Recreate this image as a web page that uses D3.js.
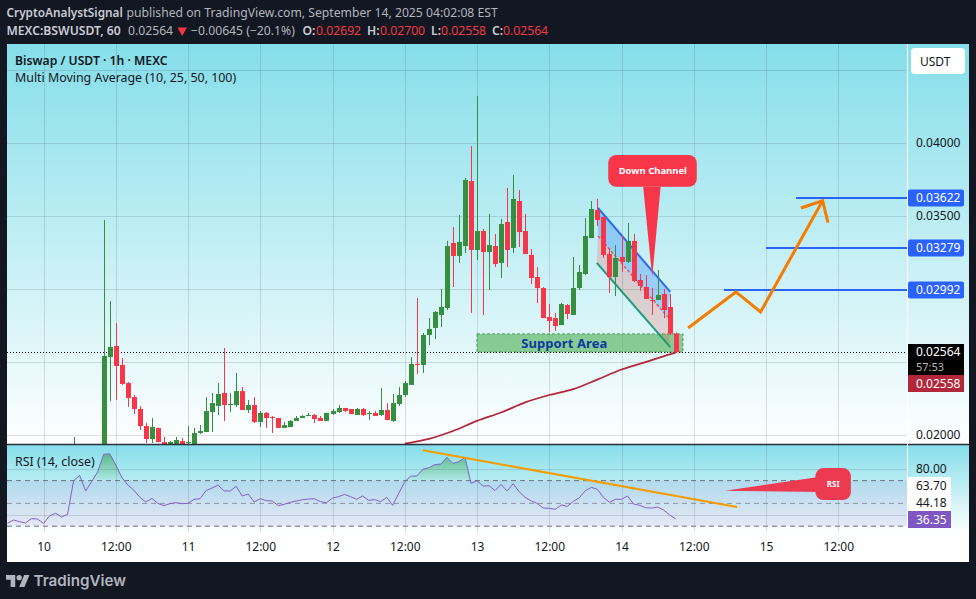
<!DOCTYPE html>
<html><head><meta charset="utf-8">
<script src="https://cdn.jsdelivr.net/npm/d3@7/dist/d3.min.js"></script>
<style>html,body{margin:0;padding:0;background:#131722}svg{display:block}text{font-family:"Noto Sans",sans-serif}</style>
</head><body><svg id="c" width="976" height="599"></svg>
<script>
// ---- data ----
const candleHours=[5,...d3.range(10,106)];
const opens=[0.01850,0.01756,0.02532,0.02607,0.02477,0.02353,0.02257,0.02175,0.02058,0.01969,0.02045,0.01949,0.01925,0.01925,0.01955,0.01942,0.01925,0.02010,0.02017,0.02154,0.02196,0.02285,0.02202,0.02202,0.02298,0.02168,0.02202,0.02086,0.02148,0.02120,0.02113,0.02045,0.02051,0.02093,0.02113,0.02127,0.02134,0.02113,0.02093,0.02141,0.02154,0.02182,0.02175,0.02134,0.02175,0.02141,0.02148,0.02134,0.02168,0.02093,0.02209,0.02271,0.02340,0.02484,0.02477,0.02683,0.02731,0.02820,0.02868,0.03314,0.03225,0.03293,0.03739,0.03266,0.03396,0.03252,0.03293,0.03177,0.03458,0.03280,0.03602,0.03396,0.03232,0.03081,0.03005,0.02806,0.02799,0.02751,0.02889,0.02820,0.03005,0.03101,0.03348,0.03540,0.03492,0.03238,0.03081,0.03218,0.03184,0.03328,0.03060,0.03012,0.02923,0.02923,0.02964,0.02875,0.02692];
const highs=[0.01983,0.03472,0.02916,0.02765,0.02525,0.02360,0.02271,0.02196,0.02079,0.02113,0.02048,0.01983,0.01955,0.01983,0.01976,0.02058,0.02045,0.02065,0.02257,0.02285,0.02353,0.02594,0.02285,0.02422,0.02326,0.02237,0.02257,0.02161,0.02154,0.02127,0.02113,0.02086,0.02099,0.02127,0.02134,0.02148,0.02141,0.02127,0.02148,0.02175,0.02202,0.02182,0.02175,0.02182,0.02182,0.02161,0.02161,0.02319,0.02216,0.02278,0.02326,0.02367,0.02532,0.02937,0.02696,0.02799,0.02847,0.02998,0.03328,0.03424,0.03506,0.03760,0.03979,0.04322,0.03410,0.03513,0.03376,0.03479,0.03691,0.03780,0.03678,0.03513,0.03273,0.03149,0.03012,0.02895,0.02834,0.02902,0.02895,0.03218,0.03163,0.03485,0.03602,0.03616,0.03492,0.03280,0.03300,0.03362,0.03451,0.03376,0.03101,0.03094,0.03005,0.03129,0.02998,0.02964,0.02700];
const lows=[0.01800,0.01700,0.02230,0.02237,0.02340,0.02189,0.02141,0.02031,0.01942,0.01942,0.01945,0.01920,0.01915,0.01915,0.01915,0.01915,0.01915,0.02003,0.02017,0.02017,0.02134,0.02093,0.02154,0.02189,0.02168,0.02148,0.02079,0.02051,0.02045,0.02010,0.02045,0.02045,0.02051,0.02093,0.02113,0.02127,0.02079,0.02093,0.02093,0.02134,0.02148,0.02154,0.02141,0.02134,0.02127,0.02099,0.02127,0.02127,0.02099,0.02086,0.02196,0.02257,0.02340,0.02415,0.02422,0.02614,0.02655,0.02738,0.02854,0.03012,0.03177,0.03245,0.02834,0.03197,0.02820,0.02991,0.03149,0.03074,0.03149,0.03245,0.03286,0.03238,0.03033,0.02902,0.02799,0.02703,0.02710,0.02751,0.02792,0.02820,0.02991,0.03094,0.03348,0.03430,0.03211,0.02971,0.02950,0.03115,0.03177,0.03046,0.02985,0.02930,0.02820,0.02923,0.02799,0.02683,0.02558];
const closes=[0.01920,0.02539,0.02600,0.02470,0.02347,0.02250,0.02175,0.02058,0.01969,0.02051,0.01949,0.01925,0.01949,0.01962,0.01925,0.01949,0.02010,0.02024,0.02161,0.02216,0.02278,0.02202,0.02209,0.02298,0.02168,0.02202,0.02086,0.02148,0.02113,0.02113,0.02045,0.02065,0.02093,0.02113,0.02127,0.02134,0.02106,0.02093,0.02148,0.02161,0.02182,0.02161,0.02141,0.02175,0.02134,0.02148,0.02127,0.02168,0.02099,0.02216,0.02271,0.02353,0.02484,0.02477,0.02683,0.02724,0.02841,0.02875,0.03293,0.03225,0.03321,0.03746,0.03266,0.03396,0.03252,0.03300,0.03170,0.03444,0.03266,0.03616,0.03389,0.03238,0.03074,0.03005,0.02799,0.02779,0.02744,0.02895,0.02827,0.03005,0.03115,0.03362,0.03547,0.03472,0.03232,0.03081,0.03211,0.03184,0.03328,0.03053,0.03019,0.02930,0.02916,0.02957,0.02854,0.02692,0.02564];
const maHours=[60,64,68,72,76,80,84,88,92,96,100,104,105];
const maValues=[0.01938,0.01970,0.02024,0.02093,0.02151,0.02220,0.02271,0.02312,0.02377,0.02446,0.02497,0.02549,0.02561];
const rsiFirstHour=-6;
const rsiValues=[32.5,35.4,34,32.8,36.6,36.3,32.5,38.9,41.3,38.1,40.4,69.9,74.6,60.9,69.1,77.8,93,93.6,83.7,72.9,66.1,61.7,55.3,51.2,54.4,50,48,49.8,50.6,49.8,50,53.6,54.1,61.2,63.5,66.1,60.9,60.9,65,56.5,58.2,51.2,54.1,52.4,52.1,48,49.2,50.9,52.1,53.3,53.8,54.1,51.5,50.6,54.7,55.9,57.9,55.9,53.6,56.5,52.7,53.3,51.5,55.3,48.3,58.8,69,74,74,79.9,81.3,84,84.5,90.4,85.1,86.6,90.4,67.6,69.9,65.2,65.5,61.2,66.7,60.9,67.3,60.3,55.3,52.1,50,45.9,45.7,44.8,48.6,47.4,51.8,55,61.2,64.1,62.3,55.3,50.9,53.6,53.6,56.5,49.5,48.3,46.2,45.9,46.8,44.2,39.8,36.35];
const priceGrid=[0.02,0.025,0.03,0.035,0.04,0.045];
const priceTicks=[0.02,0.035,0.04];
const targets=[0.03622,0.03279,0.02992];
const targetStarts=[125,120,113];
const timeTicks=[0,12,24,36,48,60,72,84,96,108,120,132];
const timeLabels=["10","12:00","11","12:00","12","12:00","13","12:00","14","12:00","15","12:00"];
const rsiTicks=[80,63.70,44.18];
const arrowHours=[107.06,115,119.1,129.4],arrowPrices=[0.02731,0.02978,0.02841,0.03604];
const headHours=[125.8,129.4,130.3],headPrices=[0.03554,0.03604,0.03453];
// ---- layout ----
const GREEN="#368f3f",RED="#f7364a",MAC="#b2283a",BLUE="#2962ff",ORANGE="#f57c00",INK="#131722";
const L=7,R=969,AX=907.5,T=44,SEP=444.5,RB=533,B=562;
const x=d3.scaleLinear().domain([0,12]).range([43.5,115.75]);
const y=d3.scaleLinear().domain([0.02,0.04]).range([434.5,143]);
const ry=d3.scaleLinear().domain([50,70]).range([503.4,480.6]);
const svg=d3.select("#c"),defs=svg.append("defs");
function grad(id,y1,y2,stops){const g=defs.append("linearGradient").attr("id",id).attr("gradientUnits","userSpaceOnUse").attr("x1",0).attr("x2",0).attr("y1",y1).attr("y2",y2);
 stops.forEach(s=>g.append("stop").attr("offset",s[0]).attr("stop-color",s[1]).attr("stop-opacity",s[2]));}
grad("bgM",T,SEP,[[0,"#85deea",1],[1,"#ffffff",1]]);
grad("bgR",SEP,RB,[[0,"#85deea",1],[1,"#ffffff",1]]);
grad("ob",446,ry(70),[[0,"#3fa35a",.85],[1,"#4caf50",.05]]);
defs.append("clipPath").attr("id","pm").append("rect").attr("x",L).attr("y",T).attr("width",AX-L).attr("height",SEP-T);
defs.append("clipPath").attr("id","pr").append("rect").attr("x",L).attr("y",SEP).attr("width",AX-L).attr("height",RB-SEP);
defs.append("clipPath").attr("id","over").append("rect").attr("x",L).attr("y",SEP).attr("width",AX-L).attr("height",ry(70)-SEP);
svg.append("rect").attr("width",976).attr("height",599).attr("fill",INK);
svg.append("rect").attr("x",L).attr("y",T).attr("width",R-L).attr("height",B-T).attr("fill","#fff");
svg.append("rect").attr("x",L).attr("y",T).attr("width",R-L).attr("height",SEP-T).attr("fill","url(#bgM)");
svg.append("rect").attr("x",L).attr("y",SEP).attr("width",R-L).attr("height",RB-SEP).attr("fill","url(#bgR)");
const GRID="rgba(42,46,57,.14)";
// main pane
const main=svg.append("g").attr("clip-path","url(#pm)");
main.selectAll(".gy").data(priceGrid).join("line").attr("x1",L).attr("x2",AX).attr("y1",d=>Math.round(y(d))+.5).attr("y2",d=>Math.round(y(d))+.5).attr("stroke",GRID);
main.selectAll(".gx").data(timeTicks).join("line").attr("x1",d=>Math.round(x(d))+.5).attr("x2",d=>Math.round(x(d))+.5).attr("y1",T).attr("y2",SEP).attr("stroke",GRID);
// drawings below candles
main.append("rect").attr("x",x(72)).attr("width",x(106.2)-x(72)).attr("y",y(0.0269)).attr("height",y(0.02566)-y(0.0269)).attr("fill","rgba(76,175,80,.6)").attr("stroke","#4a9c5a").attr("stroke-dasharray","3 2");
const poly=(pts,fill)=>main.append("polygon").attr("points",pts.map(p=>[x(p[0]),y(p[1])].join(",")).join(" ")).attr("fill",fill);
poly([[92.1,0.03554],[104.1,0.02978],[103.7,0.02806],[92.1,0.03362]],"rgba(41,130,255,.32)");
poly([[92.1,0.03362],[103.7,0.02806],[104.1,0.02600],[91.9,0.03177]],"rgba(244,67,54,.2)");
const ln=(a,b,c,w,dash)=>main.append("line").attr("x1",x(a[0])).attr("y1",y(a[1])).attr("x2",x(b[0])).attr("y2",y(b[1])).attr("stroke",c).attr("stroke-width",w).attr("stroke-dasharray",dash||null);
ln([92.1,0.03554],[104.1,0.02978],"#2f6bf0",2);
ln([92.1,0.03362],[103.7,0.02806],"#e5575f",1.5,"3 2");
ln([91.9,0.03177],[104.1,0.02600],"#1f9a7c",2);
// price line
main.append("line").attr("x1",L).attr("x2",AX).attr("y1",Math.round(y(0.02564))+.5).attr("y2",Math.round(y(0.02564))+.5).attr("stroke","#000").attr("stroke-dasharray","1 2");
// candles
const idx=candleHours.map((h,i)=>i);
const col=i=>closes[i]>=opens[i]?GREEN:RED;
main.selectAll(".w").data(idx).join("rect").attr("x",i=>Math.round(x(candleHours[i]))).attr("width",1).attr("y",i=>y(highs[i])).attr("height",i=>y(lows[i])-y(highs[i])).attr("fill",col);
main.selectAll(".b").data(idx).join("rect").attr("x",i=>Math.round(x(candleHours[i]))-2).attr("width",5)
 .attr("y",i=>y(Math.max(opens[i],closes[i]))).attr("height",i=>Math.max(1,Math.abs(y(opens[i])-y(closes[i])))).attr("fill",col);
// MA
main.append("path").attr("d",d3.line().x((d,i)=>x(maHours[i])).y(d=>y(d)).curve(d3.curveMonotoneX)(maValues)).attr("fill","none").attr("stroke",MAC).attr("stroke-width",1.8);
// targets
main.selectAll(".t").data(targets).join("line").attr("x1",(d,i)=>x(targetStarts[i])).attr("x2",AX).attr("y1",d=>y(d)).attr("y2",d=>y(d)).attr("stroke",BLUE).attr("stroke-width",2);
// arrow
const al=d3.line().x(d=>x(d[0])).y(d=>y(d[1]));
main.append("path").attr("d",al(arrowHours.map((h,i)=>[h,arrowPrices[i]]))).attr("fill","none").attr("stroke",ORANGE).attr("stroke-width",3);
main.append("path").attr("d",al(headHours.map((h,i)=>[h,headPrices[i]]))).attr("fill","none").attr("stroke",ORANGE).attr("stroke-width",3);
// support text
main.append("text").attr("x",x(86.5)).attr("y",348).attr("text-anchor","middle").attr("font-size",13).attr("font-weight",700).attr("letter-spacing",".1").attr("fill","#0d3a9e").text("Support Area");
// Down Channel callout
main.append("polygon").attr("points",[[x(99.6),y(0.037)],[x(102.5),y(0.037)],[x(101.1),y(0.03081)]].map(String).join(" ")).attr("fill",RED);
main.append("rect").attr("x",x(93.8)).attr("y",y(0.03918)).attr("width",x(108.5)-x(93.8)).attr("height",y(0.037)-y(0.03918)).attr("rx",8).attr("fill",RED);
main.append("text").attr("x",x(101.2)).attr("y",173.7).attr("text-anchor","middle").attr("font-size",9.5).attr("font-weight",700).attr("fill","#fff").text("Down Channel");
// titles
main.append("text").attr("x",15).attr("y",65).attr("font-size",12.2).attr("font-weight",600).attr("fill",INK).text("Biswap / USDT · 1h · MEXC");
main.append("text").attr("x",15).attr("y",82).attr("font-size",12.4).attr("fill",INK).text("Multi Moving Average (10, 25, 50, 100)");
// RSI pane
const rp=svg.append("g").attr("clip-path","url(#pr)");
rp.append("rect").attr("x",L).attr("width",AX-L).attr("y",ry(70)).attr("height",ry(30)-ry(70)).attr("fill","rgba(126,87,194,.12)");
rp.selectAll(".g").data([80,40]).join("line").attr("x1",L).attr("x2",AX).attr("y1",d=>Math.round(ry(d))+.5).attr("y2",d=>Math.round(ry(d))+.5).attr("stroke",GRID);
rp.selectAll(".gx").data(timeTicks).join("line").attr("x1",d=>Math.round(x(d))+.5).attr("x2",d=>Math.round(x(d))+.5).attr("y1",SEP).attr("y2",RB).attr("stroke",GRID);
rp.selectAll(".d").data([70,50,30]).join("line").attr("x1",L).attr("x2",AX).attr("y1",d=>ry(d)).attr("y2",d=>ry(d)).attr("stroke",d=>d==50?"rgba(120,123,134,.75)":"#6f727d").attr("stroke-dasharray","5 4");
const rx=(d,i)=>x(rsiFirstHour+i);
rp.append("path").attr("clip-path","url(#over)").attr("d",d3.area().x(rx).y0(ry(70)).y1(d=>ry(d))(rsiValues)).attr("fill","url(#ob)");
rp.append("path").attr("d",d3.line().x(rx).y(d=>ry(d))(rsiValues)).attr("fill","none").attr("stroke","#8460c8").attr("stroke-width",1);
rp.append("line").attr("x1",x(63)).attr("y1",ry(96.6)).attr("x2",x(115.2)).attr("y2",ry(46.9)).attr("stroke","#f59c00").attr("stroke-width",2);
rp.append("polygon").attr("points",[[x(113.2),ry(61.1)],[x(129),ry(73.4)],[x(129),ry(60)]].map(String).join(" ")).attr("fill","#ec3a50");
rp.append("rect").attr("x",x(128.2)).attr("y",ry(81)).attr("width",x(134.1)-x(128.2)).attr("height",ry(53)-ry(81)).attr("rx",8).attr("fill","#ec3a50");
rp.append("text").attr("x",x(131.15)).attr("y",487).attr("text-anchor","middle").attr("font-size",8).attr("font-weight",700).attr("fill","#fff").text("RSI");
rp.append("text").attr("x",15).attr("y",466).attr("font-size",12.4).attr("fill",INK).text("RSI (14, close)");
// separators
svg.append("line").attr("x1",L).attr("x2",R).attr("y1",SEP).attr("y2",SEP).attr("stroke","#2a2e39").attr("stroke-width",1.5);
svg.append("line").attr("x1",AX).attr("x2",AX).attr("y1",T).attr("y2",RB).attr("stroke","#fff").attr("stroke-width",1);
// price axis
const axR=svg.append("g").attr("transform",`translate(916,0)`).call(d3.axisRight(y).tickValues(priceTicks).tickSize(0).tickPadding(0).tickFormat(d3.format(".5f")));
axR.select(".domain").remove();axR.selectAll("text").attr("font-size",12).attr("fill",INK).style("font-family",null);
const tagBox=(y0,y1,fill,rr)=>svg.append("rect").attr("x",908).attr("y",y0).attr("width",56).attr("height",y1-y0).attr("fill",fill).attr("rx",rr||0);
const tagTxt=(t,yy,c,fs)=>svg.append("text").attr("x",916).attr("y",yy).attr("dy",".35em").attr("font-size",fs||12).attr("fill",c).text(t);
targets.forEach(v=>{tagBox(y(v)-8.5,y(v)+8.5,BLUE,2);tagTxt(d3.format(".5f")(v),y(v),"#fff");});
tagBox(344,375,"#000");tagBox(375,392,"#b2283a");
tagTxt("0.02564",351.7,"#fff");tagTxt("57:53",367.6,"#b8b8b8",11);tagTxt("0.02558",383.5,"#fff");
// USDT button
svg.append("rect").attr("x",911).attr("y",48).attr("width",54).attr("height",26).attr("rx",4).attr("fill","#fff");
svg.append("text").attr("x",920).attr("y",61.5).attr("dy",".35em").attr("font-size",12).attr("fill",INK).text("USDT");
// RSI axis
svg.append("rect").attr("x",908).attr("y",477).attr("width",43).attr("height",34).attr("fill","#fff");
svg.append("rect").attr("x",908).attr("y",511).attr("width",43).attr("height",17).attr("fill","#7e57c2");
const axRs=svg.append("g").attr("transform",`translate(916,0)`).call(d3.axisRight(d3.scaleOrdinal().domain(rsiTicks.map(String)).range([468.5,486,502.5])).tickSize(0).tickPadding(0).tickFormat(d=>(+d).toFixed(2)));
axRs.select(".domain").remove();axRs.selectAll("text").attr("font-size",12).attr("fill",INK).style("font-family",null);
tagTxt("36.35",519.5,"#fff");
// time axis
const axT=svg.append("g").attr("transform",`translate(0,${RB+9.5})`).call(d3.axisBottom(x).tickValues(timeTicks).tickSize(0).tickPadding(0).tickFormat((d,i)=>timeLabels[i]));
axT.select(".domain").remove();axT.selectAll("text").attr("font-size",12).attr("fill",INK).style("font-family",null);
// header
const H1="#c9ccd4",H2="#b2b5be",HR="#f23645";
const ht=(t,px,py,c,w,fs)=>svg.append("text").attr("x",px).attr("y",py).attr("font-size",fs||12.2).attr("font-weight",w||400).attr("fill",c).text(t);
ht("CryptoAnalystSignal",6.5,17,H1,600,11.8);ht("published on TradingView.com, September 14, 2025 04:02:08 EST",126.5,17,H2);
ht("MEXC:BSWUSDT, 60",6.5,35,H1,600);ht("0.02564",128,35,H2);
svg.append("polygon").attr("points","177.5,27.5 187,27.5 182.2,36").attr("fill",HR);
ht("−0.00645 (−20.1%)",191,35,H2);
[["O:",302.5,"0.02692",316],["H:",367,"0.02700",380],["L:",431,"0.02558",441],["C:",492,"0.02564",503]].forEach(a=>{ht(a[0],a[1],35,H1,600);ht(a[2],a[3],35,HR);});
// logo
const lg=svg.append("g").attr("transform","translate(6,572.4) scale(.66)").attr("fill","#b2b5be");
lg.append("path").attr("d","M14 22H7V11H0V4h14v18zM28 22h-8l7.5-18h8L28 22z");lg.append("circle").attr("cx",20).attr("cy",8).attr("r",4);
svg.append("text").attr("x",33.5).attr("y",586).attr("font-size",15.2).attr("font-weight",600).attr("fill","#b2b5be").style("font-family","Inter").text("TradingView");
</script></body></html>
